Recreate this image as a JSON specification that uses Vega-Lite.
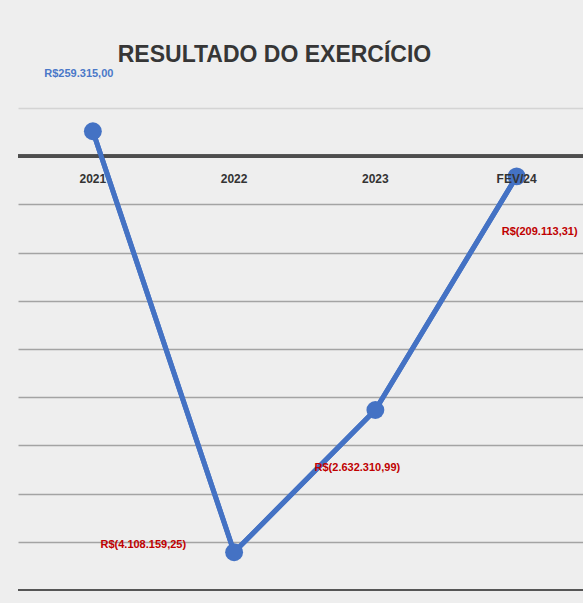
{
  "$schema": "https://vega.github.io/schema/vega-lite/v6.json",
  "width": 565,
  "height": 482,
  "autosize": {"type": "none"},
  "padding": {"left": 18, "top": 108, "right": 0, "bottom": 13},
  "background": "#eeeeee",
  "config": {"view": {"stroke": null}, "font": "Liberation Sans Narrow, Liberation Sans, sans-serif"},
  "title": {
    "text": "RESULTADO DO EXERCÍCIO",
    "fontSize": 23,
    "fontWeight": "bold",
    "color": "#363636",
    "font": "Liberation Sans Narrow, Liberation Sans, sans-serif",
    "anchor": "middle",
    "dx": -26,
    "offset": -22,
    "baseline": "bottom"
  },
  "data": {
    "values": [
      {"periodo": "2021", "valor": 259315.00, "rotulo": "R$259.315,00"},
      {"periodo": "2022", "valor": -4108159.25, "rotulo": "R$(4.108.159,25)"},
      {"periodo": "2023", "valor": -2632310.99, "rotulo": "R$(2.632.310,99)"},
      {"periodo": "FEV/24", "valor": -209113.31, "rotulo": "R$(209.113,31)"}
    ]
  },
  "layer": [
    {
      "mark": {"type": "line", "color": "#4472c4", "strokeWidth": 5},
      "encoding": {
        "x": {"field": "periodo", "type": "ordinal", "sort": null, "scale": {"type": "point", "paddingOuter": 0.4825, "align": 0.53}, "axis": null},
        "y": {
          "field": "valor", "type": "quantitative",
          "scale": {"domain": [-4500000, 500000], "nice": false, "zero": false},
          "axis": {
            "values": [-4000000, -3500000, -3000000, -2500000, -2000000, -1500000, -1000000, -500000, 500000],
            "grid": true,
            "gridColor": {"condition": {"test": "datum.value > 0", "value": "#d4d4d4"}, "value": "#a3a3a3"},
            "gridWidth": 1.5,
            "labels": false, "ticks": false, "domain": false, "title": null
          }
        }
      }
    },
    {
      "mark": {"type": "rule", "color": "#4d4d4d", "strokeWidth": 3.5},
      "encoding": {"y": {"datum": 0}}
    },
    {
      "mark": {"type": "rule", "color": "#555555", "strokeWidth": 2},
      "encoding": {"y": {"datum": -4500000}}
    },
    {
      "mark": {"type": "line", "color": "#4472c4", "strokeWidth": 5},
      "encoding": {
        "x": {"field": "periodo", "type": "ordinal", "sort": null},
        "y": {"field": "valor", "type": "quantitative"}
      }
    },
    {
      "mark": {"type": "circle", "color": "#4472c4", "opacity": 1, "size": 320},
      "encoding": {
        "x": {"field": "periodo", "type": "ordinal", "sort": null},
        "y": {"field": "valor", "type": "quantitative"}
      }
    },
    {
      "mark": {"type": "text", "color": "#333333", "fontWeight": "bold", "fontSize": 12, "dy": 23},
      "encoding": {
        "x": {"field": "periodo", "type": "ordinal", "sort": null},
        "y": {"datum": 0},
        "text": {"field": "periodo"}
      }
    },
    {
      "transform": [{"filter": "datum.periodo == '2021'"}],
      "mark": {"type": "text", "color": "#4a78c8", "fontWeight": "bold", "fontSize": 11, "dx": -14, "dy": -57},
      "encoding": {
        "x": {"field": "periodo", "type": "ordinal", "sort": null},
        "y": {"field": "valor", "type": "quantitative"},
        "text": {"field": "rotulo"}
      }
    },
    {
      "transform": [{"filter": "datum.periodo == '2022'"}],
      "mark": {"type": "text", "color": "#c00000", "fontWeight": "bold", "fontSize": 11, "align": "right", "dx": -48, "dy": -7},
      "encoding": {
        "x": {"field": "periodo", "type": "ordinal", "sort": null},
        "y": {"field": "valor", "type": "quantitative"},
        "text": {"field": "rotulo"}
      }
    },
    {
      "transform": [{"filter": "datum.periodo == '2023'"}],
      "mark": {"type": "text", "color": "#c00000", "fontWeight": "bold", "fontSize": 11, "dx": -18, "dy": 58},
      "encoding": {
        "x": {"field": "periodo", "type": "ordinal", "sort": null},
        "y": {"field": "valor", "type": "quantitative"},
        "text": {"field": "rotulo"}
      }
    },
    {
      "transform": [{"filter": "datum.periodo == 'FEV/24'"}],
      "mark": {"type": "text", "color": "#c00000", "fontWeight": "bold", "fontSize": 11, "align": "right", "dx": 61, "dy": 56},
      "encoding": {
        "x": {"field": "periodo", "type": "ordinal", "sort": null},
        "y": {"field": "valor", "type": "quantitative"},
        "text": {"field": "rotulo"}
      }
    }
  ]
}
